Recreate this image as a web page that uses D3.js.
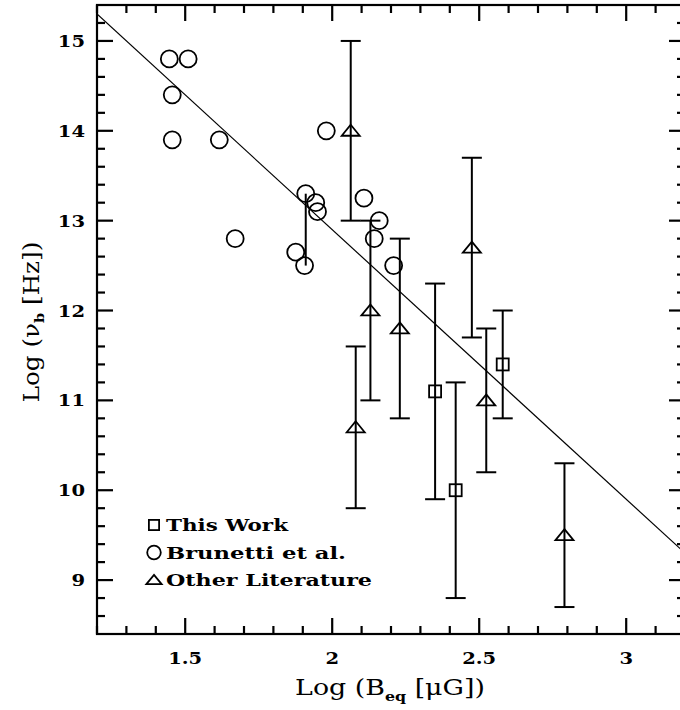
<!DOCTYPE html>
<html>
<head>
<meta charset="utf-8">
<script src="https://cdn.jsdelivr.net/npm/d3@7"></script>
<style>
  body { margin: 0; background: #fff; }
  svg { display: block; }
  text { font-family: "DejaVu Serif", "Liberation Serif", serif; fill: #000; }
</style>
</head>
<body>
<svg id="chart" width="680" height="710"></svg>
<script>
// ---- data ----
const xTickValues = [1.5, 2, 2.5, 3];
const xTickLabels = ["1.5", "2", "2.5", "3"];
const yTickValues = [9, 10, 11, 12, 13, 14, 15];
const yTickLabels = ["9", "10", "11", "12", "13", "14", "15"];

// This Work (squares): x, y, yLow, yHigh
const thisWorkX = [2.35, 2.42, 2.58];
const thisWorkY = [11.1, 10.0, 11.4];
const thisWorkLo = [9.9, 8.8, 10.8];
const thisWorkHi = [12.3, 11.2, 12.0];

// Brunetti et al. (circles)
const brunettiX = [1.446, 1.51, 1.456, 1.456, 1.616, 1.67, 1.876, 1.91, 1.944, 1.95, 1.906, 1.98, 2.108, 2.16, 2.143, 2.209];
const brunettiY = [14.8, 14.8, 14.4, 13.9, 13.9, 12.8, 12.65, 13.3, 13.2, 13.1, 12.5, 14.0, 13.25, 13.0, 12.8, 12.5];
// a single uncapped bar linking two Brunetti points
const brunettiBarX = [1.91];
const brunettiBarLo = [12.5];
const brunettiBarHi = [13.3];

// Other Literature (triangles)
const otherX = [2.063, 2.13, 2.23, 2.08, 2.475, 2.524, 2.79];
const otherY = [14.0, 12.0, 11.8, 10.7, 12.7, 11.0, 9.5];
const otherLo = [13.0, 11.0, 10.8, 9.8, 11.7, 10.2, 8.7];
const otherHi = [15.0, 13.0, 12.8, 11.6, 13.7, 11.8, 10.3];

// fitted relation: log nu = a + b * log B
const fitIntercept = 18.9;
const fitSlope = -3.0;

const legendLabels = ["This Work", "Brunetti et al.", "Other Literature"];
const legendKinds = ["square", "circle", "triangle"];

// ---- layout ----
const svg = d3.select("#chart");
const mLeft = 97, mRight = 685, mTop = 5, mBottom = 634;
const x = d3.scaleLinear().domain([1.2, 3.2]).range([mLeft, mRight]);
const y = d3.scaleLinear().domain([8.4, 15.4]).range([mBottom, mTop]);

const xAll = d3.range(12, 33).map(v => v / 10);
const yAll = d3.range(42, 78).map(v => v / 5).filter(v => v > 8.4 && v < 15.4);
const isMajor = (arr, v) => arr.some(t => Math.abs(t - v) < 1e-6);

svg.append("defs").append("clipPath").attr("id", "plotclip")
  .append("rect").attr("x", mLeft).attr("y", mTop).attr("width", mRight - mLeft).attr("height", mBottom - mTop);

// inward ticks on all four sides
const tk = svg.append("g").attr("stroke", "#000").attr("stroke-width", 2.2);
tk.selectAll("line.xb").data(xAll).join("line").attr("class", "xb")
  .attr("x1", d => x(d)).attr("x2", d => x(d))
  .attr("y1", mBottom).attr("y2", d => mBottom - (isMajor(xTickValues, d) ? 16 : 8));
tk.selectAll("line.xt").data(xAll).join("line").attr("class", "xt")
  .attr("x1", d => x(d)).attr("x2", d => x(d))
  .attr("y1", mTop).attr("y2", d => mTop + (isMajor(xTickValues, d) ? 16 : 8));
tk.selectAll("line.yl").data(yAll).join("line").attr("class", "yl")
  .attr("y1", d => y(d)).attr("y2", d => y(d))
  .attr("x1", mLeft).attr("x2", d => mLeft + (isMajor(yTickValues, d) ? 16 : 8));
tk.selectAll("line.yr").data(yAll).join("line").attr("class", "yr")
  .attr("y1", d => y(d)).attr("y2", d => y(d))
  .attr("x1", mRight).attr("x2", d => mRight - (isMajor(yTickValues, d) ? 16 : 8));

// frame
svg.append("rect").attr("x", mLeft).attr("y", mTop).attr("width", mRight - mLeft).attr("height", mBottom - mTop)
  .attr("fill", "none").attr("stroke", "#000").attr("stroke-width", 2.2);

// tick labels
svg.append("g").selectAll("text").data(xTickValues).join("text")
  .attr("transform", d => `translate(${x(d)},664) scale(1.15,1)`)
  .attr("text-anchor", "middle").attr("font-size", 17).attr("font-weight", "bold")
  .text((d, i) => xTickLabels[i]);
svg.append("g").selectAll("text").data(yTickValues).join("text")
  .attr("transform", d => `translate(85,${y(d) + 6}) scale(1.15,1)`)
  .attr("text-anchor", "end").attr("font-size", 17).attr("font-weight", "bold")
  .text((d, i) => yTickLabels[i]);

// axis titles
const xt = svg.append("text").attr("transform", "translate(390,695) scale(1.22,1)").attr("text-anchor", "middle")
  .attr("font-size", 22);
xt.append("tspan").text("Log (B");
xt.append("tspan").attr("font-size", 13).attr("font-weight", "bold").attr("dy", 6).text("eq");
xt.append("tspan").attr("dy", -6).text(" [μG])");

const yt = svg.append("text").attr("transform", "translate(39,322) rotate(-90) scale(1.12,1)").attr("text-anchor", "middle")
  .attr("font-size", 22);
yt.append("tspan").text("Log (ν");
yt.append("tspan").attr("font-size", 13).attr("font-weight", "bold").attr("dy", 5).text("b");
yt.append("tspan").attr("dy", -5).text(" [Hz])");

const plot = svg.append("g").attr("clip-path", "url(#plotclip)");

// fit line
plot.append("line")
  .attr("x1", x(1.2)).attr("y1", y(fitIntercept + fitSlope * 1.2))
  .attr("x2", x(3.2)).attr("y2", y(fitIntercept + fitSlope * 3.2))
  .attr("stroke", "#000").attr("stroke-width", 1.2);

function errorBars(xs, lo, hi, capped) {
  const g = plot.append("g").attr("stroke", "#000").attr("stroke-width", 2);
  xs.forEach((xv, i) => {
    g.append("line").attr("x1", x(xv)).attr("x2", x(xv)).attr("y1", y(lo[i])).attr("y2", y(hi[i]));
    if (capped) {
      [lo[i], hi[i]].forEach(v => g.append("line")
        .attr("x1", x(xv) - 10).attr("x2", x(xv) + 10).attr("y1", y(v)).attr("y2", y(v)));
    }
  });
}
errorBars(otherX, otherLo, otherHi, true);
errorBars(thisWorkX, thisWorkLo, thisWorkHi, true);
errorBars(brunettiBarX, brunettiBarLo, brunettiBarHi, false);

function drawSymbol(g, kind, cx, cy, s) {
  if (kind === "square") {
    g.append("rect").attr("x", cx - 6 * s).attr("y", cy - 6 * s).attr("width", 12 * s).attr("height", 12 * s)
      .attr("fill", "none").attr("stroke", "#000").attr("stroke-width", 1.8);
  } else if (kind === "circle") {
    g.append("circle").attr("cx", cx).attr("cy", cy).attr("r", 8.5 * s)
      .attr("fill", "none").attr("stroke", "#000").attr("stroke-width", 1.8);
  } else {
    const h = 11 * s, w = 9 * s;
    g.append("path").attr("d", `M${cx},${cy - h * 0.55}L${cx + w},${cy + h * 0.45}L${cx - w},${cy + h * 0.45}Z`)
      .attr("fill", "none").attr("stroke", "#000").attr("stroke-width", 1.8);
  }
}

const marks = plot.append("g");
brunettiX.forEach((xv, i) => drawSymbol(marks, "circle", x(xv), y(brunettiY[i]), 1));
thisWorkX.forEach((xv, i) => drawSymbol(marks, "square", x(xv), y(thisWorkY[i]), 1));
otherX.forEach((xv, i) => drawSymbol(marks, "triangle", x(xv), y(otherY[i]), 1));

// legend
const lg = svg.append("g");
const legendWidths = [122, 180, 206];
legendLabels.forEach((lab, i) => {
  const cy = 525 + i * 27.5;
  drawSymbol(lg, legendKinds[i], 154, cy, i === 1 ? 0.8 : 0.85);
  lg.append("text").attr("x", 166).attr("y", cy + 6).attr("font-size", 17).attr("font-weight", "bold")
    .attr("textLength", legendWidths[i]).attr("lengthAdjust", "spacingAndGlyphs")
    .text(lab);
});
</script>
</body>
</html>
